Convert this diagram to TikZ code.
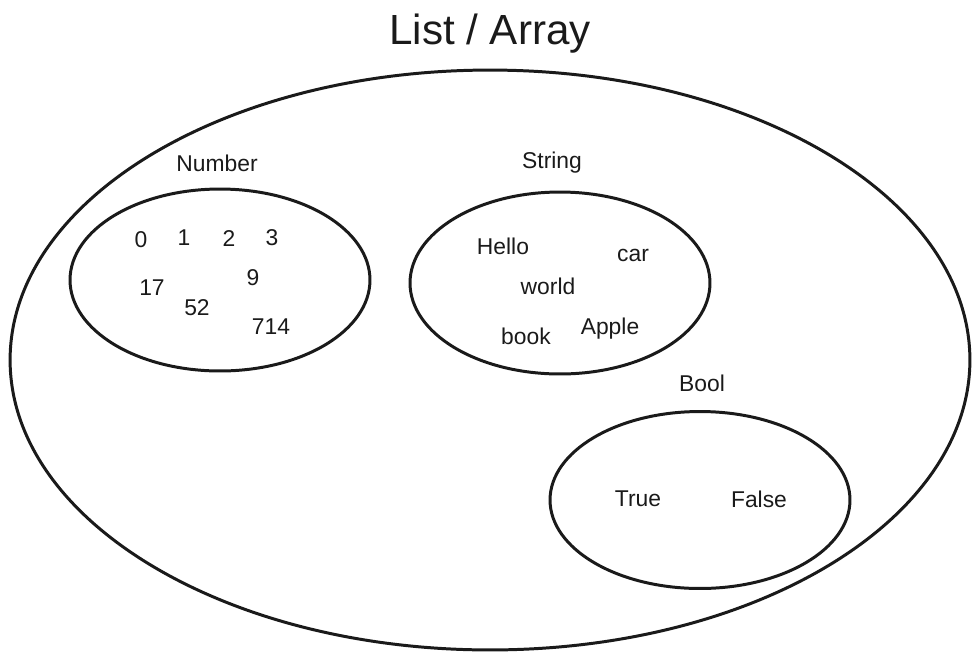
\documentclass[tikz,border=0pt]{standalone}
\usepackage{fontspec}
\setmainfont{Liberation Sans}
\usepackage{xcolor}
\usetikzlibrary{shapes.geometric}
\definecolor{InkDark}{HTML}{1A1A1A}

\begin{document}
\begin{tikzpicture}[
	x=0.02cm, y=-0.02cm,
	% Set outline style
	set/.style={
		ellipse,
		draw=InkDark,
		line width=1.7pt,
		inner sep=0pt
	},
	item/.style={
		text=InkDark,
		font=\fontsize{13}{15}\selectfont,
		inner sep=0pt
	},
	title/.style={
		text=InkDark,
		font=\fontsize{24}{27}\selectfont,
		inner sep=0pt
	}
	]
	\useasboundingbox (0,0) rectangle (980,660);
	
	% ================= SETS =================
	\node[set, minimum width=19.2cm, minimum height=11.6cm] (array) at (490,360) {};
	\node[set, minimum width=6cm, minimum height=3.64cm] (numset) at (220,280) {};
	\node[set, minimum width=6cm, minimum height=3.64cm] (strset) at (560,283) {};
	\node[set, minimum width=6cm, minimum height=3.54cm] (boolset) at (700,500) {};
	
	% ================= LABELS =================
	\node[title] (arraylbl) at (490,34) {List / Array};
	\node[item] (numlbl) at (217,163) {Number};
	\node[item] (strlbl) at (552,163) {String};
	\node[item] (boollbl) at (702,383) {Bool};
	
	% ================= ITEMS =================
	\node[item] (n0) at (141,240) {0};
	\node[item] (n1) at (184,238) {1};
	\node[item] (n2) at (229,239) {2};
	\node[item] (n3) at (272,238) {3};
	\node[item] (n17) at (152,288) {17};
	\node[item] (n9) at (253,278) {9};
	\node[item] (n52) at (197,308) {52};
	\node[item] (n714) at (271,327) {714};
	
	\node[item] (sHello) at (503,246) {Hello};
	\node[item] (sCar) at (633,255) {car};
	\node[item] (sWorld) at (548,286) {world};
	\node[item] (sBook) at (526,336) {book};
	\node[item] (sApple) at (610,329) {Apple};
	
	\node[item] (bTrue) at (638,499) {True};
	\node[item] (bFalse) at (759,499) {False};
	
\end{tikzpicture}
\end{document}
